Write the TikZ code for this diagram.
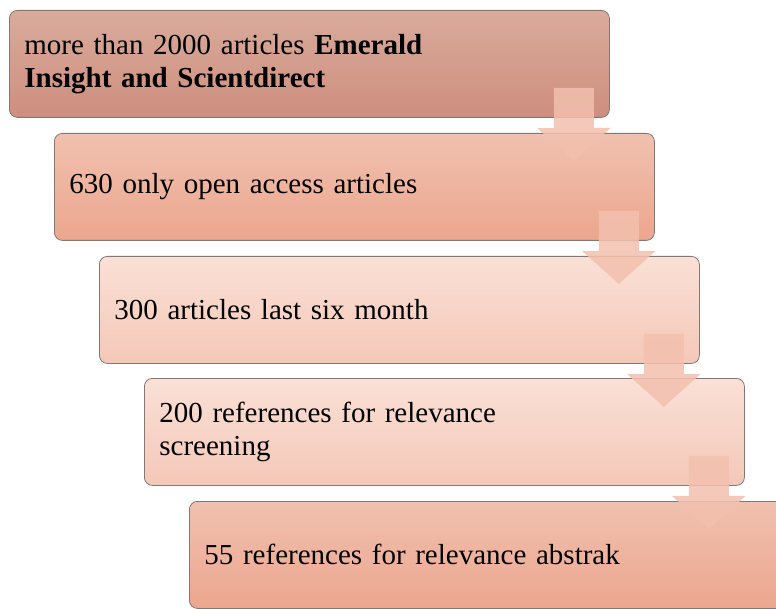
\documentclass[tikz,border=0pt]{standalone}
\usepackage{fontspec}
\setmainfont{Liberation Serif}
\usetikzlibrary{calc}

\definecolor{boxAtop}{HTML}{D9AB9B}
\definecolor{boxAbot}{HTML}{CE8E7E}
\definecolor{boxBtop}{HTML}{F0C1AF}
\definecolor{boxBbot}{HTML}{ECA68E}
\definecolor{boxCtop}{HTML}{FAE0D6}
\definecolor{boxCbot}{HTML}{F4C8B8}
\definecolor{edgegrey}{HTML}{857773}
\definecolor{arrowfill}{HTML}{F3C0AE}

\tikzset{
  stepbox/.style={
    draw=edgegrey, line width=0.8pt, rounded corners=8pt,
    anchor=north west, minimum height=107pt,
    text width=570pt, inner xsep=15pt, inner ysep=0pt, align=left,
    font=\fontsize{29}{33}\selectfont
  },
  darkbox/.style={stepbox, top color=boxAtop, bottom color=boxAbot},
  midbox/.style={stepbox, top color=boxBtop, bottom color=boxBbot},
  lightbox/.style={stepbox, top color=boxCtop, bottom color=boxCbot},
  downarrow/.style={fill=arrowfill, fill opacity=0.85, draw=none}
}

% down arrow hanging from the lower right corner of a step box
\newcommand{\steparrow}[1]{%
  \fill[downarrow]
    ($(#1.south east)+(-56pt,30pt)$) -- ($(#1.south east)+(-16pt,30pt)$)
    -- ($(#1.south east)+(-16pt,-10pt)$) -- ($(#1.south east)+(1pt,-10pt)$)
    -- ($(#1.south east)+(-36pt,-43pt)$) -- ($(#1.south east)+(-73pt,-10pt)$)
    -- ($(#1.south east)+(-56pt,-10pt)$) -- cycle;}

\begin{document}
\begin{tikzpicture}[x=1pt,y=1pt]
  \useasboundingbox (0,0) rectangle (776,-609);

  \node[darkbox]  (s1) at (9,-10)
    {more than 2000 articles \textbf{Emerald}\\\textbf{Insight and Scientdirect}};
  \node[midbox]   (s2) at (54,-133) {630 only open access articles};
  \node[lightbox] (s3) at (99,-256) {300 articles last six month};
  \node[lightbox] (s4) at (144,-378) {200 references for relevance\\screening};
  \node[midbox]   (s5) at (189,-501) {55 references for relevance abstrak};

  \steparrow{s1}
  \steparrow{s2}
  \steparrow{s3}
  \steparrow{s4}
\end{tikzpicture}
\end{document}
